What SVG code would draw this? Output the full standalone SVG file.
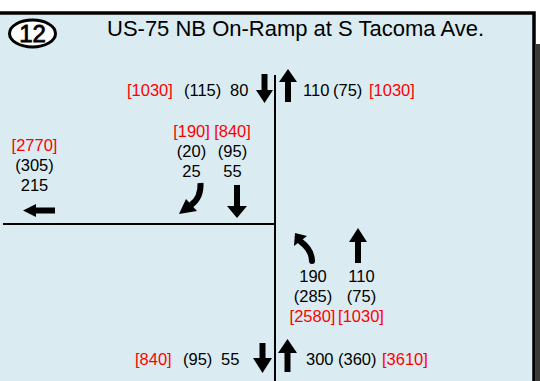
<svg xmlns="http://www.w3.org/2000/svg" width="540" height="381" viewBox="0 0 540 381">
<style>
text{font-family:"Liberation Sans",Arial,sans-serif;font-size:16.5px;fill:#000}
.r{fill:#ff0000}
.m{text-anchor:middle}
.arr{fill:#000;stroke:none}
.shaft{fill:none;stroke:#000;stroke-width:6}
.road{stroke:#000;stroke-width:2;fill:none}
</style>
<rect x="0" y="0" width="540" height="381" fill="#ffffff"/>
<rect x="536" y="44" width="4" height="337" fill="#3a3a3a"/>
<rect id="panel" x="-5" y="13" width="539" height="380" fill="#daecf2" stroke="#000" stroke-width="3.5"/>
<g id="badge">
<ellipse cx="32.5" cy="33.5" rx="23" ry="13.5" fill="#fff" stroke="#000" stroke-width="3"/>
<text x="32.5" y="42" class="m" style="font-size:24px" stroke="#000" stroke-width="0.8">12</text>
</g>
<g id="title"><text x="107" y="36" style="font-size:22px">US-75 NB On-Ramp at S Tacoma Ave.</text></g>
<g id="connectors">
<line class="road" x1="275" y1="75" x2="275" y2="381"/>
<line class="road" x1="3" y1="224" x2="275" y2="224"/>
</g>
<g id="north-leg">
<text x="127" y="96" class="r">[1030]</text>
<text x="184" y="96">(115)</text>
<text x="230" y="96">80</text>
<path class="arr" d="M261.5,74 H267.5 V90 H273 L264.5,103 L256,90 H261.5 Z"/>
<path class="arr" d="M288,69 L297,82 H291 V102 H285 V82 H279 Z"/>
<text x="303" y="96">110</text>
<text x="333" y="96">(75)</text>
<text x="369" y="96" class="r">[1030]</text>
</g>
<g id="west-leg">
<text x="34.5" y="151" class="m r">[2770]</text>
<text x="34.5" y="171" class="m">(305)</text>
<text x="34.5" y="191" class="m">215</text>
<path class="arr" d="M23,210.5 L36,204 V207.5 H55 V213.5 H36 V217 Z"/>
</g>
<g id="sb-approach">
<text x="191.5" y="137" class="m r">[190]</text>
<text x="191.5" y="157" class="m">(20)</text>
<text x="191.5" y="177" class="m">25</text>
<text x="232.5" y="137" class="m r">[840]</text>
<text x="232.5" y="157" class="m">(95)</text>
<text x="232.5" y="177" class="m">55</text>
<path class="shaft" d="M200.5,183 C201,193 198,200 191,205"/>
<path class="arr" d="M179,214 L186,199 L197,211 Z"/>
<path class="arr" d="M234,185 H240 V206 H247 L237,218 L227,206 H234 Z"/>
</g>
<g id="nb-approach">
<path class="shaft" d="M300,241 C308,247 312,253 312,261" stroke-linecap="round"/>
<path class="arr" d="M295,233 L307,236 L294,246 Z"/>
<path class="arr" d="M358,228 L367,242 H361 V263 H355 V242 H349 Z"/>
<text x="313" y="282" class="m">190</text>
<text x="313" y="302" class="m">(285)</text>
<text x="312.5" y="322" class="m r">[2580]</text>
<text x="361.5" y="282" class="m">110</text>
<text x="361.5" y="302" class="m">(75)</text>
<text x="361" y="322" class="m r">[1030]</text>
</g>
<g id="south-leg">
<text x="135" y="365" class="r">[840]</text>
<text x="183" y="365">(95)</text>
<text x="221" y="365">55</text>
<path class="arr" d="M259.5,343 H265.5 V358 H272 L262.5,373 L253,358 H259.5 Z"/>
<path class="arr" d="M287.5,339 L297,353 H290.5 V372 H284.5 V353 H278 Z"/>
<text x="306" y="365">300</text>
<text x="338" y="365">(360)</text>
<text x="382" y="365" class="r">[3610]</text>
</g>
</svg>
